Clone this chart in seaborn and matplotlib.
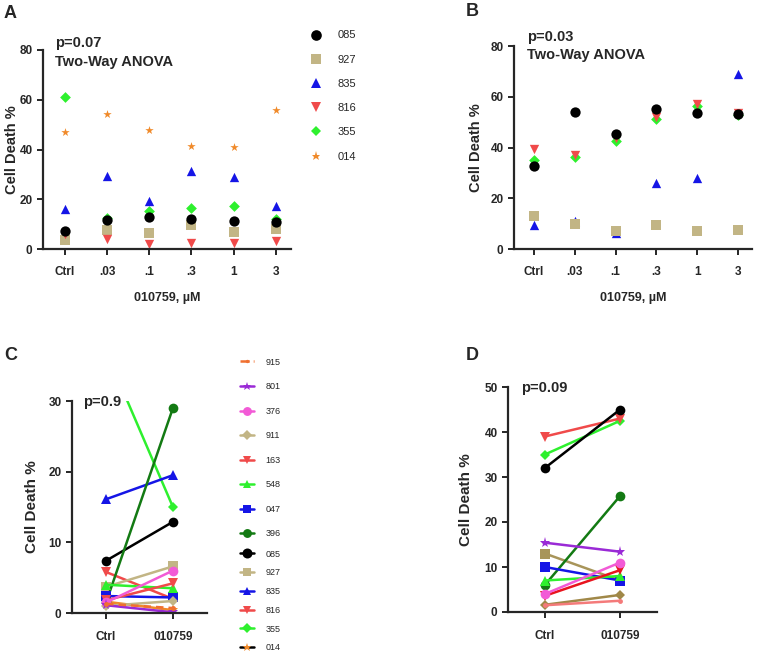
import numpy as np
import pandas as pd
import matplotlib
matplotlib.use("Agg")
import matplotlib.pyplot as plt
import seaborn as sns
from matplotlib.lines import Line2D

sns.set_style("ticks")
plt.rcParams['font.family'] = ['Liberation Sans', 'DejaVu Sans']

# ---------------- data ----------------
doses = ["Ctrl", ".03", ".1", ".3", "1", "3"]
series_AB = ["085", "927", "835", "816", "355", "014"]

A_085 = [7.4, 11.5, 13.0, 12.2, 11.4, 11.0]
A_927 = [3.5, 7.5, 6.5, 9.5, 7.0, 8.0]
A_835 = [16.0, 29.5, 19.2, 31.5, 29.0, 17.3]
A_816 = [6.0, 4.0, 2.0, 2.5, 2.5, 3.2]
A_355 = [61.3, 12.5, 15.2, 16.3, 17.4, 12.0]
A_014 = [47.2, 54.3, 48.0, 41.3, 40.9, 56.0]

B_085 = [32.6, 54.0, 45.4, 55.1, 53.6, 53.2]
B_927 = [13.1, 10.0, 7.0, 9.3, 7.1, 7.5]
B_835 = [9.5, 11.0, 6.2, 26.0, 28.0, 68.8]
B_816 = [39.5, 37.0, 43.6, 52.0, 57.2, 53.5]
B_355 = [35.2, 36.4, 42.4, 51.3, 56.5, 53.0]
B_014 = [np.nan] * 6

pair_x = ["Ctrl", "010759"]
series_C = ["915", "801", "376", "911", "163", "548", "047", "396",
            "085", "927", "835", "816", "355", "014"]
C_ctrl = [1.3, 1.1, 1.5, 1.0, 1.8, 4.0, 2.4, 1.5, 7.4, 3.7, 16.1, 5.8, 37.0, 1.6]
C_drug = [0.7, 0.1, 6.0, 1.7, 4.2, 3.5, 2.2, 29.0, 12.9, 6.6, 19.5, 2.0, 15.0, 0.4]

series_D = ["915", "801", "376", "911", "163", "548", "047", "396",
            "085", "927", "816", "355"]
D_ctrl = [1.5, 15.4, 4.0, 1.6, 3.6, 7.0, 10.0, 6.0, 32.0, 13.0, 39.0, 35.0]
D_drug = [2.5, 13.4, 11.0, 3.8, 9.3, 8.0, 7.0, 25.8, 45.0, 7.0, 43.0, 42.5]

# ---------------- styles ----------------
col = {"085": "#000000", "927": "#c2b585", "835": "#1515e6", "816": "#f04a4a",
       "355": "#2ef02e", "014": "#f08a2a", "915": "#f07030", "801": "#9a2ad6",
       "376": "#f25ad6", "911": "#c2b585", "163": "#f04a4a", "548": "#2ef02e",
       "047": "#1515e6", "396": "#137a13"}
mk = {"085": "o", "927": "s", "835": "^", "816": "v", "355": "D", "014": "*",
      "915": ".", "801": "*", "376": "o", "911": "D", "163": "v", "548": "^",
      "047": "s", "396": "o"}
msz = {"085": 9, "927": 8, "835": 8, "816": 8, "355": 6, "014": 8,
       "915": 6, "801": 8, "376": 8, "911": 6, "163": 8, "548": 7,
       "047": 8, "396": 8}

W, H = 762, 654
fig = plt.figure(figsize=(W / 100, H / 100), dpi=100)

def axrect(x0, x1, ytop, ybot):
    return [x0 / W, 1 - ybot / H, (x1 - x0) / W, (ybot - ytop) / H]

axA = fig.add_axes(axrect(43, 291, 50, 249))
axB = fig.add_axes(axrect(514, 752, 46, 249))
axC = fig.add_axes(axrect(72, 207, 401, 613))
axD = fig.add_axes(axrect(508, 657, 387, 612))

def style_axis(ax, xpad=6):
    sns.despine(ax=ax)
    for s in ["left", "bottom"]:
        ax.spines[s].set_linewidth(1.6)
    ax.tick_params(width=1.4, length=4, direction="out")
    ax.tick_params(axis="x", pad=xpad)
    for lab in ax.get_xticklabels() + ax.get_yticklabels():
        lab.set_fontweight("bold")
        lab.set_fontsize(8.5)

# ---------------- A & B: scatter ----------------
def scatter_panel(ax, vals, ymax):
    rows = []
    for s, v in zip(series_AB, vals):
        for i, y in enumerate(v):
            rows.append({"pos": i, "val": y, "line": s})
    df = pd.DataFrame(rows).dropna()
    sizes = {"085": 55, "927": 45, "835": 45, "816": 45, "355": 30, "014": 40}
    for s in ["014", "355", "835", "927", "816", "085"]:
        sub = df[df.line == s]
        if len(sub) == 0:
            continue
        sns.scatterplot(data=sub, x="pos", y="val", ax=ax, marker=mk[s],
                        color=col[s], s=sizes[s], linewidth=0, legend=False)
    ax.set_xlim(-0.52, 5.36)
    ax.set_ylim(0, ymax)
    ax.set_xticks(range(len(doses)))
    ax.set_xticklabels(doses)
    ax.set_yticks([0, 20, 40, 60, 80])
    ax.set_xlabel("010759, \u00b5M", fontsize=9, fontweight="bold", labelpad=10)
    ax.set_ylabel("Cell Death %", fontsize=10.5, fontweight="bold")
    style_axis(ax, xpad=8)

scatter_panel(axA, [A_085, A_927, A_835, A_816, A_355, A_014], 80)
scatter_panel(axB, [B_085, B_927, B_835, B_816, B_355, B_014], 80)
axB.set_xlim(-0.49, 5.34)
axA.yaxis.set_label_coords(-0.095, 0.5)
axB.yaxis.set_label_coords(-0.13, 0.5)

# ---------------- C & D: paired lines ----------------
def paired_panel(ax, series, ctrl, drug, ymax, yticks, palette, dashes):
    rows = []
    for s, a, b in zip(series, ctrl, drug):
        rows.append({"pos": 0, "val": a, "line": s})
        rows.append({"pos": 1, "val": b, "line": s})
    df = pd.DataFrame(rows)
    order = list(series)[::-1]
    sns.lineplot(data=df, x="pos", y="val", hue="line", style="line",
                 hue_order=order, style_order=order,
                 palette={s: palette[s] for s in series},
                 markers={s: mk[s] for s in series},
                 dashes={s: dashes.get(s, "") for s in series},
                 markersize=7, linewidth=1.8, markeredgewidth=0,
                 sort=False, estimator=None, ax=ax, legend=False)
    for ln in ax.lines:
        if ln.get_marker() == "D":
            ln.set_markersize(5.5)
        elif ln.get_marker() == "*":
            ln.set_markersize(8)
    ax.set_xlim(-0.51, 1.51)
    ax.set_ylim(0, ymax)
    ax.set_xticks([0, 1])
    ax.set_xticklabels(pair_x)
    ax.set_yticks(yticks)
    ax.set_xlabel("")
    ax.set_ylabel("Cell Death %", fontsize=11, fontweight="bold")
    style_axis(ax, xpad=9)

palC = dict(col)
paired_panel(axC, series_C, C_ctrl, C_drug, 30, [0, 10, 20, 30], palC,
             {"915": (3, 2)})
palD = dict(col)
palD.update({"915": "#f47a7a", "163": "#e8141e", "927": "#a8955a", "911": "#a08848"})
paired_panel(axD, series_D, D_ctrl, D_drug, 50, [0, 10, 20, 30, 40, 50], palD, {})
axD.set_xlim(-0.49, 1.49)
axC.yaxis.set_label_coords(-0.245, 0.5)
axD.yaxis.set_label_coords(-0.235, 0.5)

# ---------------- annotations ----------------
def ftext(x, y, s, **kw):
    fig.text(x / W, 1 - y / H, s, **kw)

bold = dict(fontweight="bold", va="center")
ftext(4, 14, "A", fontsize=13, **bold)
ftext(466, 12, "B", fontsize=13, **bold)
ftext(4, 355, "C", fontsize=13, **bold)
ftext(466, 355, "D", fontsize=13, **bold)

ftext(55, 43, "p=0.07", fontsize=10.5, **bold)
ftext(55, 62, "Two-Way ANOVA", fontsize=10.5, **bold)
ftext(527, 37, "p=0.03", fontsize=10.5, **bold)
ftext(527, 55, "Two-Way ANOVA", fontsize=10.5, **bold)
ftext(83, 402, "p=0.9", fontsize=10.5, **bold)
ftext(521, 388, "p=0.09", fontsize=10.5, **bold)

# ---------------- legends ----------------
def handle_scatter(s):
    return Line2D([], [], linestyle="", marker=mk[s], color=col[s],
                  markersize=msz[s] * 0.85, markeredgewidth=0)

def handle_line(s):
    ls = "--" if s == "915" else "-"
    c = "#000000" if s == "014" else col[s]
    return Line2D([], [], linestyle=ls, color=c, linewidth=1.8, marker=mk[s],
                  markerfacecolor=col[s], markersize=msz[s] * 0.8,
                  markeredgewidth=0)

fig.legend([handle_scatter(s) for s in series_AB], series_AB,
           loc="upper left", bbox_to_anchor=(305 / W, 1 - 26 / H),
           frameon=False, fontsize=8, labelspacing=1.28,
           handlelength=1.2, handletextpad=1.3, borderaxespad=0)

top8 = series_C[:8]
bot6 = series_C[8:]
fig.legend([handle_line(s) for s in top8], top8,
           loc="upper left", bbox_to_anchor=(236 / W, 1 - 354 / H),
           frameon=False, fontsize=6.5, labelspacing=1.72,
           handlelength=1.6, handletextpad=1.3, borderaxespad=0)
fig.legend([handle_line(s) for s in bot6], bot6,
           loc="upper left", bbox_to_anchor=(236 / W, 1 - 546 / H),
           frameon=False, fontsize=6.5, labelspacing=1.08,
           handlelength=1.6, handletextpad=1.3, borderaxespad=0)

fig.savefig("out.png", dpi=100)
